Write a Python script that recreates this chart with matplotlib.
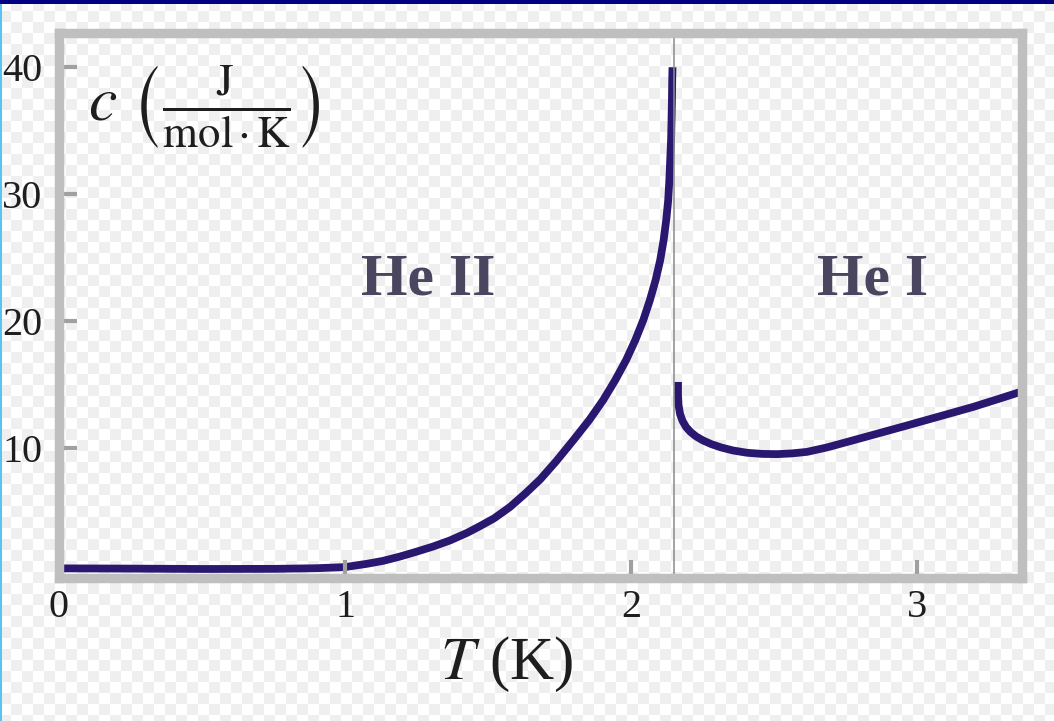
import numpy as np
import matplotlib
matplotlib.use("Agg")
import matplotlib.pyplot as plt
from matplotlib.patches import Rectangle

# Specific heat of liquid helium, c (J / mol K) versus temperature T (K)
# superfluid branch (He II), below the lambda point
T_he2 = [0.0, 0.25, 0.5, 0.75, 0.9, 1.0, 1.077, 1.133, 1.192, 1.248, 1.308,
         1.367, 1.427, 1.472, 1.521, 1.577, 1.629, 1.682, 1.738, 1.799,
         1.854, 1.903, 1.945, 1.983, 2.015, 2.043, 2.066, 2.086, 2.102,
         2.114, 2.123, 2.130, 2.134, 2.137, 2.140, 2.1416, 2.143, 2.144,
         2.145]
c_he2 = [0.51, 0.49, 0.46, 0.47, 0.52, 0.61, 0.87, 1.10, 1.44, 1.81, 2.23,
         2.71, 3.31, 3.84, 4.45, 5.35, 6.38, 7.51, 8.94, 10.63,
         12.20, 13.78, 15.35, 16.93, 18.50, 20.08, 21.65, 23.23, 24.80,
         26.38, 27.95, 29.53, 31.10, 32.68, 34.25, 35.83, 37.40, 38.98,
         40.0]

# normal-fluid branch (He I), above the lambda point
T_he1 = [2.1643, 2.1643, 2.1661, 2.1713, 2.1801, 2.1923, 2.2080, 2.2273,
         2.2517, 2.2797, 2.3147, 2.3566, 2.4056, 2.4580, 2.5105, 2.5629,
         2.6154, 2.6853, 2.8007, 2.9650, 3.1154, 3.1958, 3.2902, 3.3497,
         3.3671]
c_he1 = [15.20, 14.17, 13.39, 12.68, 12.13, 11.65, 11.26, 10.91,
         10.59, 10.31, 10.04, 9.80, 9.62, 9.53, 9.51, 9.57,
         9.69, 10.04, 10.75, 11.77, 12.72, 13.23, 13.90, 14.33,
         14.46]

T_lambda = 2.15
x_ticks = [0, 1, 2, 3]
y_ticks = [10, 20, 30, 40]
phase_labels = ["He II", "He I"]
phase_T = [1.29, 2.846]
phase_c = [22.1, 22.1]

W, H, DPI = 1054, 721, 100
plt.rcParams["font.family"] = ["Liberation Serif", "DejaVu Serif"]
plt.rcParams["mathtext.fontset"] = "stix"

fig = plt.figure(figsize=(W / DPI, H / DPI), dpi=DPI)
fig.patch.set_facecolor("white")

# light checkered backdrop
cell = 11
yy, xx = np.mgrid[0:H, 0:W]
chk = ((xx // cell + yy // cell) % 2).astype(float)
bg = np.ones((H, W, 3))
bg[chk == 1] = np.array([239, 239, 239]) / 255.0
fig.figimage(bg, xo=0, yo=0, zorder=-10)

# slide edges
fig.add_artist(Rectangle((0, 1 - 4 / H), 1, 4 / H, transform=fig.transFigure,
                         facecolor="#000080", edgecolor="none", zorder=5))
fig.add_artist(Rectangle((0, 0), 1.5 / W, 1 - 4 / H, transform=fig.transFigure,
                         facecolor="#5bc3f2", edgecolor="none", zorder=5))

ax = fig.add_axes([59 / W, 143 / H, (1022 - 59) / W, (688 - 143) / H])
ax.set_zorder(1)
ax.set_facecolor("none")
ax.set_xlim(0, 3.367)
ax.set_ylim(-0.25, 42.7)

line_col = "#2a1870"
ax.plot(T_he2, c_he2, color=line_col, lw=5.6, solid_capstyle="butt",
        solid_joinstyle="round", zorder=2)
ax.plot(T_he1, c_he1, color=line_col, lw=5.6, solid_capstyle="butt",
        solid_joinstyle="round", zorder=2)
ax.axvline(T_lambda, color="#8c8c8c", lw=1.4, alpha=0.8, zorder=3)

for s in ax.spines.values():
    s.set_color("#bfbfbf")
    s.set_linewidth(6.8)
    s.set_zorder(4)

ax.set_axisbelow(False)
ax.set_xticks(x_ticks)
ax.set_yticks(y_ticks)
ax.tick_params(direction="in", length=13, width=3, color="#a0a0a0",
               labelsize=29, labelcolor="#1e1e1e")
ax.tick_params(axis="x", pad=8)
ax.tick_params(axis="y", pad=12)

ax.set_xlabel(r"$T$ (K)", fontsize=44, color="#1e1e1e")
ax.xaxis.set_label_coords(0.465, -0.104, transform=ax.transAxes)
ax.xaxis.label.set_va("top")

ax.text(0.03, 0.864,
        r"$c\ \left(\frac{\mathrm{J}}{\mathrm{mol\,{\cdot}\,K}}\right)$",
        transform=ax.transAxes, fontsize=46, color="#1e1e1e",
        ha="left", va="center")

for lab, tx, cy in zip(phase_labels, phase_T, phase_c):
    ax.text(tx, cy, lab, fontsize=43, fontweight="bold", color="#4b4660",
            ha="center", va="baseline")

fig.savefig("out.png", dpi=DPI)
